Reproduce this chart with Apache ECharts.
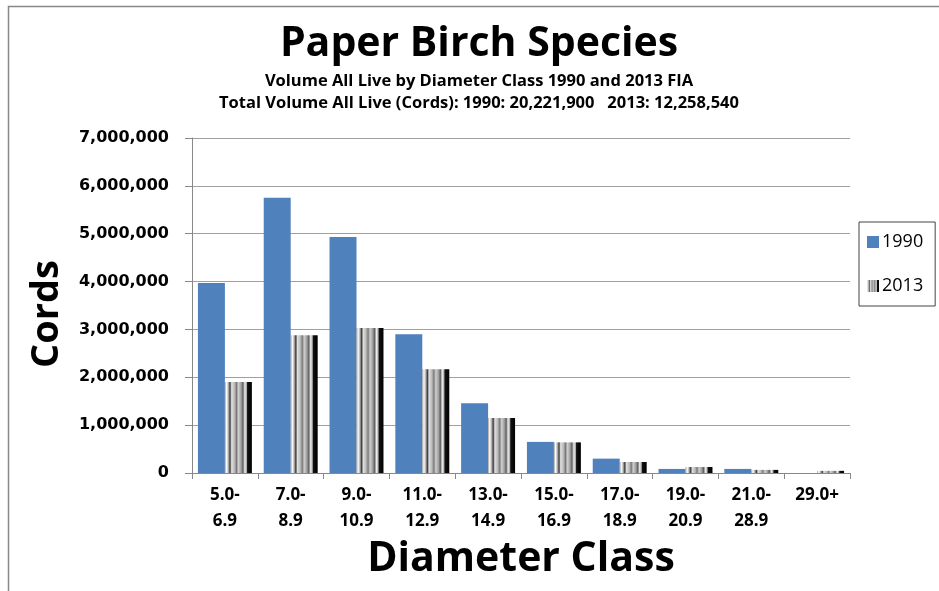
<!DOCTYPE html>
<html>
<head>
<meta charset="utf-8">
<script src="https://cdn.jsdelivr.net/npm/echarts@6/dist/echarts.min.js"></script>
<style>
  html, body { margin: 0; padding: 0; background: #fff; }
  #chart { width: 939px; height: 591px; }
</style>
</head>
<body>
<div id="chart"></div>
<script>
// diameter classes (inches)
var classes = ['5.0-\n6.9', '7.0-\n8.9', '9.0-\n10.9', '11.0-\n12.9', '13.0-\n14.9', '15.0-\n16.9', '17.0-\n18.9', '19.0-\n20.9', '21.0-\n28.9', '29.0+']
// cords
var vol1990 = [3970000, 5750000, 4930000, 2900000, 1460000, 650000, 300000, 85000, 85000, 0]
var vol2013 = [1900000, 2880000, 3030000, 2170000, 1150000, 640000, 230000, 125000, 65000, 45000]
var yTicks = [0, 1000000, 2000000, 3000000, 4000000, 5000000, 6000000, 7000000]

var chart = echarts.init(document.getElementById('chart'))

// striped grey fill used for the 2013 bars
var stripes = new echarts.graphic.LinearGradient(0, 0, 1, 0, [
  { offset: 0, color: '#9a9a9a' },
  { offset: 0.06, color: '#ffffff' },
  { offset: 0.13, color: '#b0b0b0' },
  { offset: 0.19, color: '#3a3a3a' },
  { offset: 0.25, color: '#e0e0e0' },
  { offset: 0.36, color: '#b8b8b8' },
  { offset: 0.43, color: '#7a7a7a' },
  { offset: 0.5, color: '#d0d0d0' },
  { offset: 0.6, color: '#a0a0a0' },
  { offset: 0.67, color: '#606060' },
  { offset: 0.74, color: '#eeeeee' },
  { offset: 0.8, color: '#b0b0b0' },
  { offset: 0.84, color: '#111111' },
  { offset: 1, color: '#000000' }
])

var option = {
  animation: false,
  title: [
    {
      text: 'Paper Birch Species',
      left: 474,
      textAlign: 'center',
      top: 19,
      textStyle: { fontFamily: 'Open Sans', fontWeight: 'bold', fontSize: 41, color: '#000' }
    },
    {
      text: 'Volume All Live by Diameter Class 1990 and 2013 FIA\nTotal Volume All Live (Cords): 1990: 20,221,900   2013: 12,258,540',
      left: 474,
      textAlign: 'center',
      top: 65,
      textStyle: { fontFamily: 'Open Sans', fontWeight: 'bold', fontSize: 16.5, lineHeight: 22, color: '#000', align: 'center' }
    }
  ],
  graphic: [
    {
      type: 'rect',
      shape: { x: 8.5, y: 6.5, width: 1000, height: 700 },
      style: { fill: 'none', stroke: '#888', lineWidth: 1.5 },
      silent: true
    },
    {
      type: 'text',
      x: 47,
      y: 314,
      rotation: Math.PI / 2,
      style: {
        text: 'Cords',
        fontFamily: 'Open Sans',
        fontWeight: 'bold',
        fontSize: 38,
        fill: '#000',
        align: 'center',
        verticalAlign: 'middle'
      },
      silent: true
    }
  ],
  legend: {
    orient: 'vertical',
    left: 859,
    top: 222,
    width: 74,
    padding: [11, 12, 11, 8],
    itemGap: 26,
    itemWidth: 12,
    itemHeight: 12,
    icon: 'rect',
    borderColor: '#444',
    borderWidth: 1,
    textStyle: { fontFamily: 'Open Sans', fontSize: 18, color: '#000', padding: [0, 0, 0, -2] },
    data: ['1990', '2013']
  },
  grid: { left: 192, right: 89, top: 138, bottom: 118 },
  xAxis: {
    type: 'category',
    data: classes,
    name: 'Diameter Class',
    nameLocation: 'middle',
    nameGap: 64,
    nameTextStyle: { fontFamily: 'Open Sans', fontWeight: 'bold', fontSize: 41, color: '#000' },
    axisLine: { lineStyle: { color: '#888' } },
    axisTick: { show: true, length: 6, alignWithLabel: false, lineStyle: { color: '#888' } },
    axisLabel: {
      interval: 0,
      margin: 9,
      fontFamily: 'Open Sans',
      fontWeight: 'bold',
      fontSize: 17,
      lineHeight: 26,
      color: '#000'
    }
  },
  yAxis: {
    type: 'value',
    min: yTicks[0],
    max: yTicks[yTicks.length - 1],
    interval: 1000000,
    axisLine: { show: true, lineStyle: { color: '#888' } },
    axisTick: { show: true, length: 7, lineStyle: { color: '#888' } },
    splitLine: { lineStyle: { color: '#a0a0a0', width: 1.2 } },
    axisLabel: {
      margin: 23,
      fontFamily: 'DejaVu Sans',
      fontWeight: 'bold',
      fontSize: 16,
      color: '#000',
      formatter: function (v) { return v.toLocaleString('en-US') }
    }
  },
  series: [
    {
      name: '1990',
      type: 'bar',
      data: vol1990,
      barGap: '0%',
      barCategoryGap: '18%',
      itemStyle: { color: '#4F81BD' }
    },
    {
      name: '2013',
      type: 'bar',
      data: vol2013,
      itemStyle: { color: stripes }
    }
  ]
}

chart.setOption(option)
</script>
</body>
</html>
